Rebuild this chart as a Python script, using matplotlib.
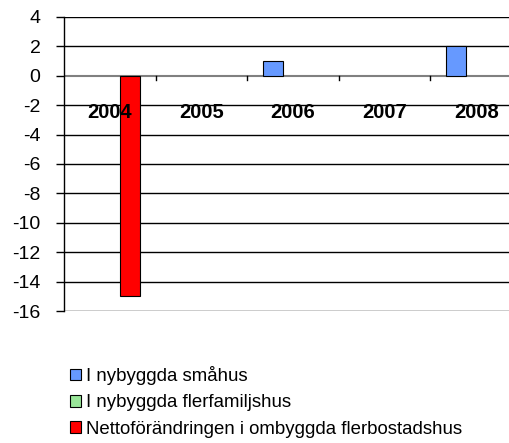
import matplotlib
matplotlib.use("Agg")
import matplotlib.pyplot as plt
import numpy as np
from matplotlib.patches import Patch

plt.rcParams['font.family'] = ['Liberation Sans', 'DejaVu Sans']

years = ["2004", "2005", "2006", "2007", "2008"]
smahus = [0, 0, 1, 0, 2]
flerfamiljshus = [0, 0, 0, 0, 0]
ombyggda = [-15, 0, 0, 0, 0]
series_names = ["I nybyggda småhus", "I nybyggda flerfamiljshus",
                "Nettoförändringen i ombyggda flerbostadshus"]
colors = ["#6699FF", "#99E699", "#FF0000"]
yticks = list(range(-16, 5, 2))

fig = plt.figure(figsize=(5.10, 4.43), dpi=100)
W, H = 510, 443
left, right, top, bottom = 64, 522, 17, 311
ax = fig.add_axes([left / W, 1 - bottom / H, (right - left) / W, (bottom - top) / H])

x = np.arange(len(years))
bw = 0.218
for i, (vals, c) in enumerate(zip([smahus, flerfamiljshus, ombyggda], colors)):
    v = np.array(vals, dtype=float)
    mask = v != 0
    ax.bar(x[mask] + (i - 1) * bw, v[mask], width=bw, color=c,
           edgecolor="black", linewidth=0.8, zorder=3)

ax.set_xlim(-0.5, len(years) - 0.5)
ax.set_ylim(-16, 4)
ax.set_yticks(yticks)
ax.set_yticklabels([str(t) for t in yticks], fontsize=14)
for yv in yticks:
    if yv != 0:
        ax.axhline(yv, color="black", linewidth=1.0, zorder=1)
ax.axhline(0, color="#808080", linewidth=1.5, zorder=2)

# category boundary ticks on zero line
for b in np.arange(0.5, len(years) - 0.5, 1.0):
    ax.plot([b, b], [0, -0.28], color="black", linewidth=1.0, zorder=2)

for xi, lab in zip(x, years):
    ax.text(xi, -2.5, lab, ha="center", va="center", fontsize=14.5,
            fontweight="bold", zorder=4)

ax.set_xticks([])
for s in ["top", "right", "bottom"]:
    ax.spines[s].set_visible(False)
ax.spines["left"].set_linewidth(1.0)
ax.tick_params(axis="y", length=6, width=1, pad=11)
ax.set_facecolor("none")

handles = [Patch(facecolor=c, edgecolor="black", linewidth=0.8) for c in colors]
fig.legend(handles, series_names, loc="upper left",
           bbox_to_anchor=(70 / W, 1 - 366 / H), frameon=False, fontsize=13.4,
           handlelength=0.6, handleheight=0.6, handletextpad=0.25,
           labelspacing=0.5, borderpad=0, borderaxespad=0)

fig.savefig("out.png", dpi=100)
